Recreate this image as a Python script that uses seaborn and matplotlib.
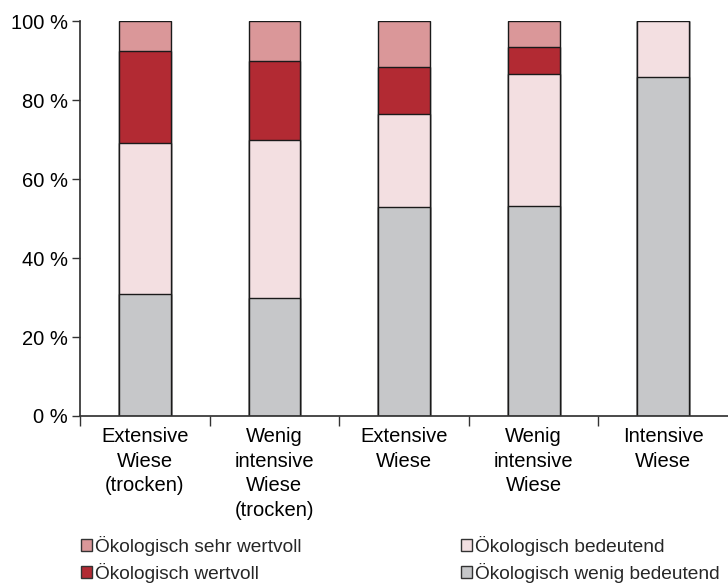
import numpy as np
import pandas as pd
import seaborn as sns
import matplotlib.pyplot as plt
from matplotlib.patches import Patch
from matplotlib.ticker import FixedLocator

# --------------------------
# Data (percent shares per meadow type)
# --------------------------
categories = [
    "Extensive\nWiese\n(trocken)",
    "Wenig\nintensive\nWiese\n(trocken)",
    "Extensive\nWiese",
    "Wenig\nintensive\nWiese",
    "Intensive\nWiese",
]
wenig_bedeutend = [30.8, 30.0, 53.0, 53.2, 85.8]
bedeutend = [38.4, 40.0, 23.5, 33.4, 14.2]
wertvoll = [23.3, 20.0, 11.8, 6.8, 0.0]
sehr_wertvoll = [7.5, 10.0, 11.7, 6.6, 0.0]

layer_names = [
    "Ökologisch wenig bedeutend",
    "Ökologisch bedeutend",
    "Ökologisch wertvoll",
    "Ökologisch sehr wertvoll",
]
layer_colors = ["#c6c7c9", "#f3dfe1", "#b22a33", "#da9799"]

# --------------------------
# Style
# --------------------------
sns.set_theme(style="ticks")
plt.rcParams["font.family"] = ["Liberation Sans", "DejaVu Sans"]
plt.rcParams["axes.edgecolor"] = "#333333"
plt.rcParams["xtick.color"] = "#333333"
plt.rcParams["ytick.color"] = "#333333"
fs = 14.5

fig = plt.figure(figsize=(7.28, 5.84), dpi=100)
ax = fig.add_axes([0.11, 0.2877, 0.89, 0.676])

# cumulative heights, drawn from top layer down so lower ones sit in front
layers = [wenig_bedeutend, bedeutend, wertvoll, sehr_wertvoll]
cum = np.cumsum(np.array(layers), axis=0)

for i in range(len(layers) - 1, -1, -1):
    df = pd.DataFrame({"cat": categories, "val": cum[i]})
    sns.barplot(data=df, x="cat", y="val", color=layer_colors[i],
                width=0.4, edgecolor="#1a1a1a", linewidth=1.0,
                saturation=1, ax=ax)

ax.set_xlim(-0.5, 4.5)
ax.set_ylim(0, 100)
ax.set_xlabel("")
ax.set_ylabel("")
ax.set_yticks([0, 20, 40, 60, 80, 100])
ax.set_yticklabels([f"{v} %" for v in [0, 20, 40, 60, 80, 100]], fontsize=fs, color="black")
ax.tick_params(axis="y", length=6, width=1, pad=3)
ax.tick_params(axis="x", which="major", length=0, pad=8)
ax.xaxis.set_minor_locator(FixedLocator([-0.5, 0.5, 1.5, 2.5, 3.5]))
ax.tick_params(axis="x", which="minor", length=7, width=1)
for lbl in ax.get_xticklabels():
    lbl.set_fontsize(fs)
    lbl.set_color("black")
    lbl.set_linespacing(1.38)
    lbl.set_verticalalignment("top")
sns.despine(ax=ax)

# --------------------------
# Legend
# --------------------------
order = [3, 2, 1, 0]
handles = [Patch(facecolor=layer_colors[i], edgecolor="#333333", linewidth=1) for i in order]
labels = [layer_names[i] for i in order]
fig.legend(handles, labels, ncol=2, loc="lower left", bbox_to_anchor=(0.087, -0.027),
           frameon=False, fontsize=13.8, handlelength=0.6, handleheight=0.6,
           handletextpad=0.15, columnspacing=8.3, labelspacing=0.35)

plt.savefig("out.png", dpi=100)
